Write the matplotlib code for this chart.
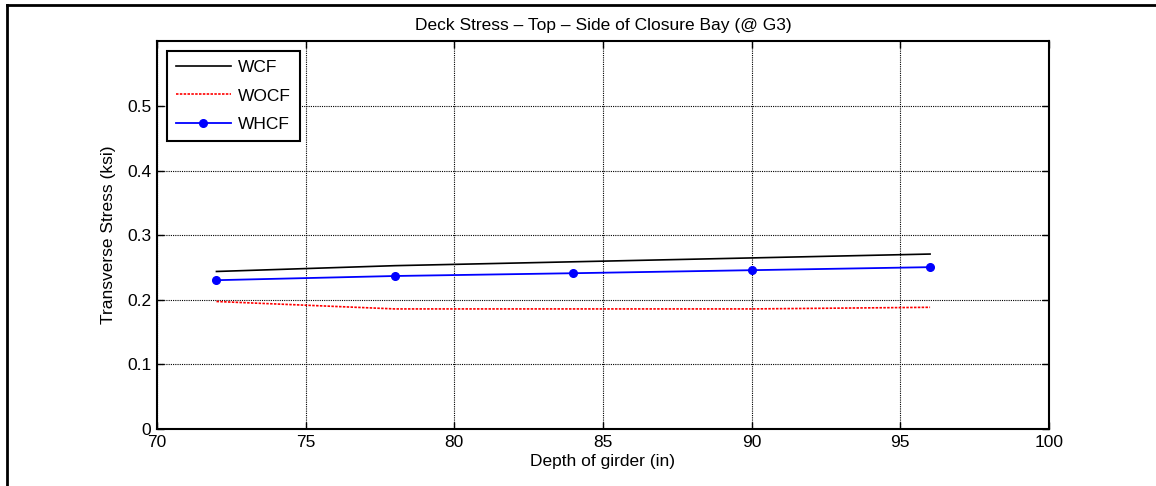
import matplotlib
matplotlib.use("Agg")
import matplotlib.pyplot as plt
from matplotlib.lines import Line2D

plt.rcParams['font.family'] = ['Liberation Sans', 'DejaVu Sans']

depth = [72, 78, 84, 90, 96]
wcf = [0.244, 0.253, 0.259, 0.265, 0.271]
wocf = [0.1975, 0.186, 0.186, 0.186, 0.1885]
whcf = [0.2305, 0.237, 0.2413, 0.246, 0.2507]
xticks = [70, 75, 80, 85, 90, 95, 100]
yticks = [0, 0.1, 0.2, 0.3, 0.4, 0.5]

fig = plt.figure(figsize=(11.56, 4.86), dpi=100)
ax = fig.add_axes([157/1156, 1-429/486, (1049-157)/1156, (429-41)/486])

ax.plot(depth, wcf, color='black', lw=1.2, label='WCF')
ax.plot(depth, wocf, color='red', lw=1.2, ls=(0, (1.5, 0.8)), label='WOCF')
ax.plot(depth, whcf, color='blue', lw=1.3, marker='o', ms=5.5, label='WHCF')

ax.set_xlim(70, 100)
ax.set_ylim(0, 0.601)
ax.set_xticks(xticks)
ax.set_yticks(yticks)
ax.set_yticklabels(['0', '0.1', '0.2', '0.3', '0.4', '0.5'])
ax.grid(True, color='black', ls=(0, (1, 1)), lw=0.8)
ax.tick_params(direction='in', length=5, width=1, top=True, right=True,
               labelsize=12.5, pad=4)
for s in ax.spines.values():
    s.set_linewidth(1.5)

ax.set_title('Deck Stress – Top – Side of Closure Bay (@ G3)', fontsize=12.5, pad=8)
ax.set_xlabel('Depth of girder (in)', fontsize=12.5, labelpad=3)
ax.set_ylabel('Transverse Stress (ksi)', fontsize=12.5, labelpad=8)

leg = ax.legend(loc='upper left', bbox_to_anchor=((167-157)/892, 1-(51-41)/388),
                borderaxespad=0, fontsize=12.5, fancybox=False, framealpha=1,
                edgecolor='black', handlelength=3.2, labelspacing=0.78,
                borderpad=0.5, handletextpad=0.4)
leg.get_frame().set_linewidth(1.5)

fig.add_artist(Line2D([7/1156, 7/1156], [0, 1-5/486], color='black', lw=2, transform=fig.transFigure))
fig.add_artist(Line2D([7/1156, 1], [1-5/486, 1-5/486], color='black', lw=2, transform=fig.transFigure))

fig.savefig('out.png', dpi=100)
